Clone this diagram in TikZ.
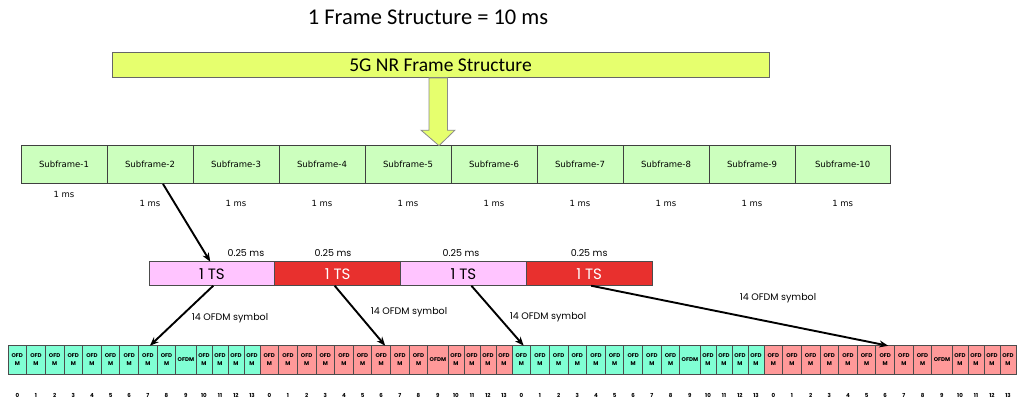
\documentclass[tikz,border=0pt]{standalone}
\usepackage{fontspec}
\setmainfont{Carlito}
\newfontfamily\tahomafont{DejaVu Sans}
\newfontfamily\gothicfont{Poppins}
\usetikzlibrary{positioning,arrows.meta,calc}

\definecolor{barYellow}{RGB}{230,255,110}
\definecolor{subGreen}{RGB}{204,255,190}
\definecolor{tsPink}{RGB}{255,196,255}
\definecolor{tsRed}{RGB}{232,48,46}
\definecolor{symCyan}{RGB}{128,255,212}
\definecolor{symPink}{RGB}{255,153,153}

\tikzset{
  titletext/.style={font=\fontsize{22.5}{24}\selectfont},
  framebar/.style={draw=black!60, fill=barYellow, line width=1pt, minimum width=657, minimum height=25.7,
    inner sep=0, outer sep=0, font=\fontsize{19.5}{21}\selectfont},
  blockarrow/.style={draw=black!45, fill=barYellow, line width=0.8pt},
  subbox/.style={draw=black!75, fill=subGreen, line width=1pt, minimum width=86, minimum height=38.3,
    inner sep=0, outer sep=0, font=\tahomafont\fontsize{8.5}{10}\selectfont},
  mslabel/.style={font=\tahomafont\fontsize{8.5}{10}\selectfont, inner sep=1pt},
  tsbox/.style={draw=black!70, line width=1pt, minimum width=125.75, minimum height=24,
    inner sep=0, outer sep=0, font=\gothicfont\fontsize{15}{17}\selectfont},
  tslabel/.style={font=\gothicfont\fontsize{9.5}{11}\selectfont, inner sep=1pt},
  symlabel/.style={font=\gothicfont\fontsize{9.5}{11}\selectfont, inner sep=1pt},
  symbox/.style={draw=black!70, line width=0.9pt, minimum height=28.3, inner sep=0, outer sep=0,
    align=center, font=\gothicfont\bfseries\fontsize{5.5}{8}\selectfont},
  symnum/.style={font=\gothicfont\bfseries\fontsize{5.5}{7}\selectfont, inner sep=0.5pt},
  conn/.style={line width=1.9pt, -{Stealth[length=9pt,width=7pt]}}
}

\begin{document}
\begin{tikzpicture}[x=1pt, y=-1pt]
\useasboundingbox (0,0) rectangle (1024,405);
\fill[white] (0,0) rectangle (1024,405);

% frame
\node[titletext] (title) at (428,17) {1 Frame Structure = 10 ms};
\node[framebar] (bar) at (440.5,65) {5G NR Frame Structure};

% subframes
\node[subbox, anchor=west] (sf1) at (21,164.8) {Subframe-1};
\foreach \i [remember=\i as \p (initially 1)] in {2,...,9}
  \node[subbox, right=0pt of sf\p] (sf\i) {Subframe-\i};
\node[subbox, minimum width=95.3, right=0pt of sf9] (sf10) {Subframe-10};
\node[mslabel] (ms1) at ([yshift=-11]sf1.south) {1 ms};
\foreach \i in {2,...,10}
  \node[mslabel] (ms\i) at ([yshift=-20]sf\i.south) {1 ms};

% block arrow from the frame bar
\coordinate (arrowtip) at ($(bar.south |- sf5.north)+(-1.5,0)$);
\draw[blockarrow] ([xshift=-11.5]bar.south) -- ([xshift=-11.5,yshift=-52.3]bar.south)
  -- ([xshift=-19.5,yshift=-52.3]bar.south) -- (arrowtip)
  -- ([xshift=14.5,yshift=-52.3]bar.south) -- ([xshift=7,yshift=-52.3]bar.south)
  -- ([xshift=7]bar.south) -- cycle;

% time slots
\node[tsbox, fill=tsPink, anchor=west] (ts1) at (149,273.7) {1 TS};
\node[tsbox, fill=tsRed, text=white, right=0pt of ts1] (ts2) {1 TS};
\node[tsbox, fill=tsPink, right=0pt of ts2] (ts3) {1 TS};
\node[tsbox, fill=tsRed, text=white, right=0pt of ts3] (ts4) {1 TS};
\node[tslabel] (tsl1) at ([xshift=34,yshift=9]ts1.north) {0.25 ms};
\node[tslabel] (tsl2) at ([xshift=-4.6,yshift=9]ts2.north) {0.25 ms};
\node[tslabel] (tsl3) at ([xshift=-2.4,yshift=9]ts3.north) {0.25 ms};
\node[tslabel] (tsl4) at ([yshift=9]ts4.north) {0.25 ms};

% OFDM symbols
\foreach \g/\col in {1/symCyan,2/symPink,3/symCyan,4/symPink}{
  \foreach \k in {0,...,13}{
    \pgfmathsetmacro\w{\k<9 ? 18.65 : (\k==9 ? 20.15 : 16)}
    \pgfmathsetmacro\xl{8+252*(\g-1)+(\k<10 ? 18.65*\k : 188+16*(\k-10))}
    \ifnum\k=9 \def\symtext{OFDM}\else\def\symtext{OFD\\M}\fi
    \node[symbox, fill=\col, minimum width=\w, anchor=west] (c\g-\k) at (\xl,359.9) {\symtext};
    \node[symnum] (n\g-\k) at ([yshift=-21]c\g-\k.south) {\k};
  }
}

% connectors
\draw[conn] ([xshift=13]sf2.south) -- ([xshift=-1.6]ts1.north);
\draw[conn] ([xshift=1.4]ts1.south) -- ([xshift=2]c1-7.north);
\draw[conn] ([xshift=-3]ts2.south) -- ([xshift=4]c2-6.north);
\draw[conn] ([xshift=8]ts3.south) -- ([xshift=2.4]c3-0.north);
\draw[conn] ([xshift=2]ts4.south) -- ([xshift=3]c4-6.north);
\node[symlabel] (sym1) at (230,318) {14 OFDM symbol};
\node[symlabel] (sym2) at (409,312) {14 OFDM symbol};
\node[symlabel] (sym3) at (548,317) {14 OFDM symbol};
\node[symlabel] (sym4) at (778,298) {14 OFDM symbol};
\end{tikzpicture}
\end{document}
